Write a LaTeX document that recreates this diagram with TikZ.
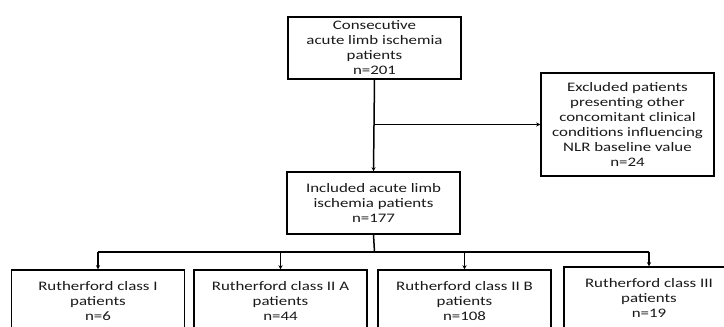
\documentclass[tikz,border=0pt]{standalone}
\usepackage{fontspec}
\setmainfont{Carlito}[FakeStretch=1.3]
\usetikzlibrary{arrows.meta}
\tikzset{
	flowbox/.style = {draw, line width = 1.5pt, inner sep = 0pt, align = center,
		minimum width = 173pt, minimum height = 62pt, text = black!90,
		font = \fontsize{13}{15}\selectfont},
	flowline/.style = {line width = 1.5pt},
	flowarrow/.style = {line width = 1.5pt, -{Stealth[length = 4pt, width = 4pt]}}
}

\begin{document}
\begin{tikzpicture}[x = 1pt, y = -1pt]

	\useasboundingbox (0,0) rectangle (724,327);

	\node[flowbox] (consec) at (374.5,48) {Consecutive\\acute limb ischemia\\patients\\n=201};
	\node[flowbox, minimum height = 103pt] (excl) at (627.5,124.5) {Excluded patients\\presenting other\\concomitant clinical\\conditions influencing\\NLR baseline value\\n=24};
	\node[flowbox] (incl) at (373.5,203) {Included acute limb\\ischemia patients\\n=177};

	\node[flowbox] (classI) at (98,301) {Rutherford class I\\patients\\n=6};
	\node[flowbox] (classIIA) at (280.5,301) {Rutherford class II A\\patients\\n=44};
	\node[flowbox] (classIIB) at (464.5,301) {Rutherford class II B\\patients\\n=108};
	\node[flowbox, minimum width = 170pt] (classIII) at (649,298) {Rutherford class III\\patients\\n=19};

	\coordinate (split) at (374.5,252);

	\draw[flowarrow] (consec.south) -- (incl.north);
	\draw[flowarrow] (consec.south |- excl.west) -- (excl.west);

	\draw[flowline] (incl.south) -- (split);
	\draw[flowline] (classI.north |- split) -- (classIII.north |- split);
	\draw[flowarrow] (classI.north |- split) -- (classI.north);
	\draw[flowarrow] (classIIA.north |- split) -- (classIIA.north);
	\draw[flowarrow] (classIIB.north |- split) -- (classIIB.north);
	\draw[flowarrow] (classIII.north |- split) -- (classIII.north);

\end{tikzpicture}
\end{document}
